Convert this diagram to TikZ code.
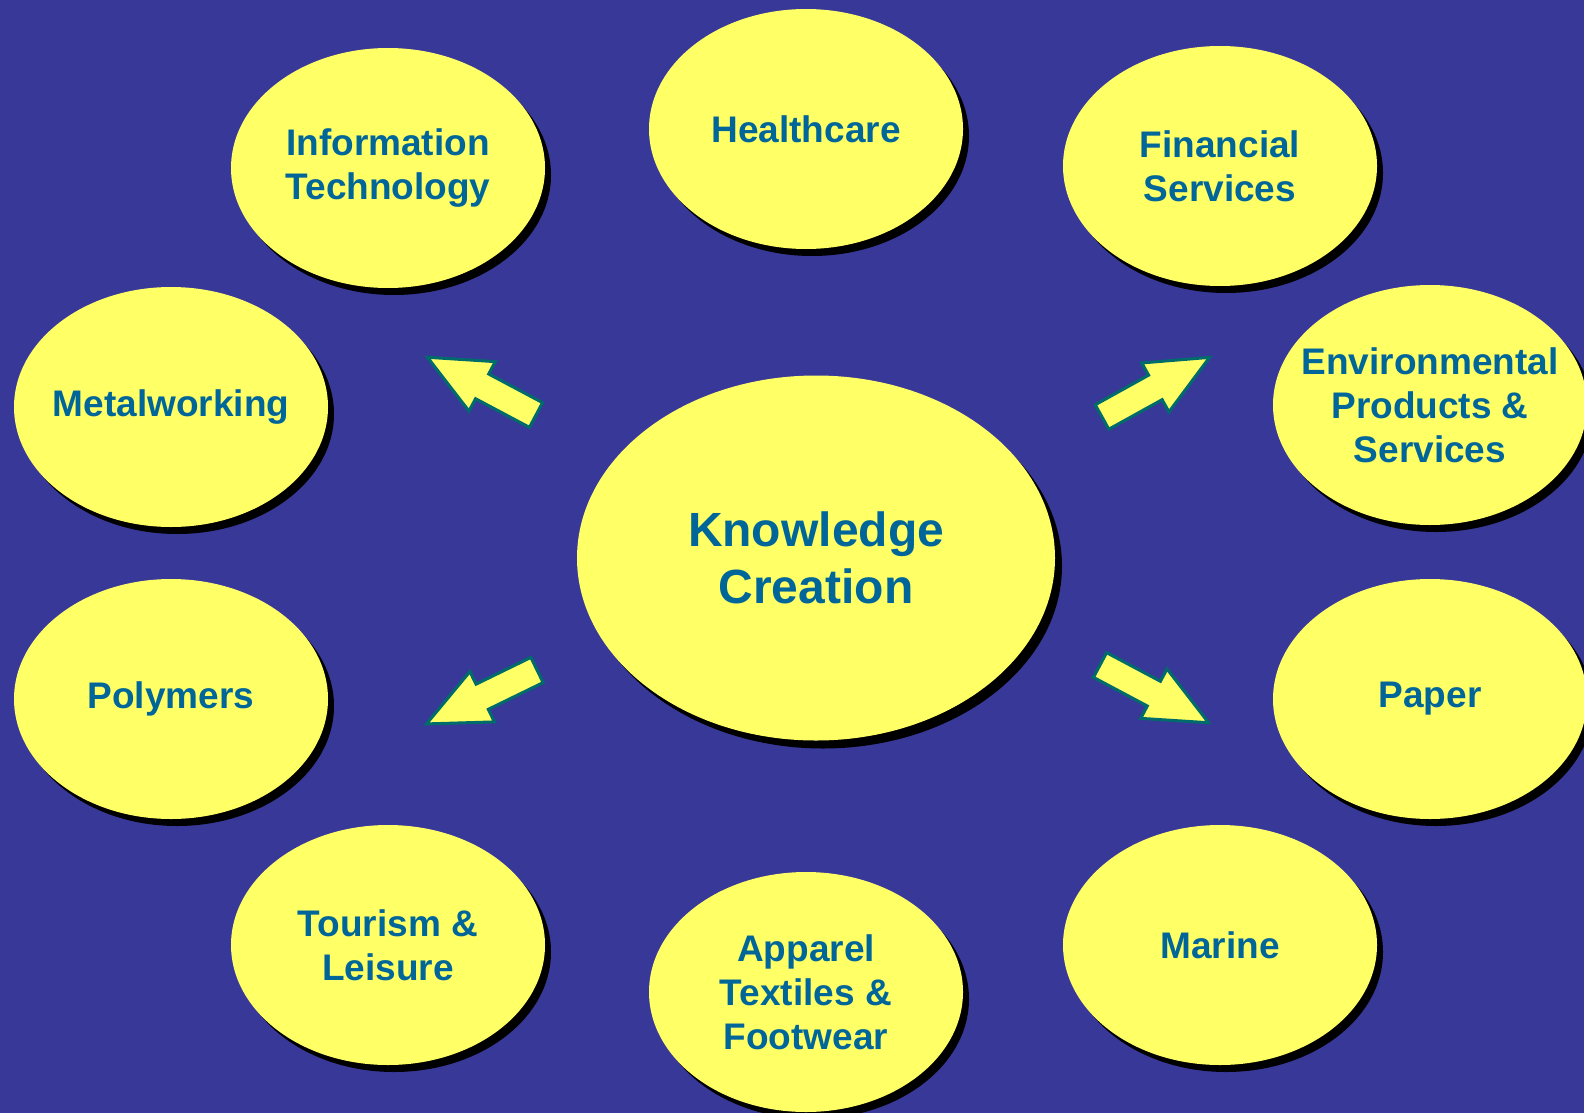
\documentclass[tikz,border=0pt]{standalone}
\usepackage{fontspec}
\setmainfont{Liberation Sans}
\usetikzlibrary{shapes.geometric,shadows}

\definecolor{backdrop}{HTML}{383898}
\definecolor{bubble}{HTML}{FFFF66}
\definecolor{label}{HTML}{006699}
\definecolor{arrowline}{HTML}{006B6B}

% block arrow: tail point, direction angle
\newcommand{\blockarrow}[2]{%
  \filldraw[blockarrow, shift={(#1)}, rotate=#2]
    (0,-14) -- (61,-14) -- (61,-28) -- (123,0) -- (61,28) -- (61,14) -- (0,14) -- cycle;}

\begin{document}
\begin{tikzpicture}[
  x=0.5pt, y=0.5pt,
  line join=miter,
  every node/.style={font=\bfseries, text=label, align=center},
  sector/.style={ellipse, fill=bubble, inner xsep=-30pt, inner ysep=0pt,
    minimum width=157pt, minimum height=120pt,
    font=\fontsize{18.5}{22}\selectfont\bfseries,
    drop shadow={shadow xshift=3pt, shadow yshift=-3.5pt, fill=black, opacity=1}},
  core/.style={sector, minimum width=239pt, minimum height=182.5pt,
    font=\fontsize{24}{28.5}\selectfont\bfseries,
    drop shadow={shadow xshift=3.5pt, shadow yshift=-4pt, fill=black, opacity=1}},
  blockarrow/.style={fill=bubble, draw=arrowline, line width=1.5pt},
]
\fill[backdrop] (0,0) rectangle (1584,-1113);
\useasboundingbox (0,0) rectangle (1584,-1113);

\node[core] (kc) at (816,-558) {Knowledge\\Creation};

\node[sector] (health)   at (806,-129)  {Healthcare};
\node[sector] (infotech) at (388,-168)  {Information\\Technology};
\node[sector] (finance)  at (1220,-166) {Financial\\Services};
\node[sector] (metal)    at (171,-407)  {Metalworking};
\node[sector] (env)      at (1430,-405) {Environmental\\Products \&\\Services};
\node[sector] (poly)     at (171,-699)  {Polymers};
\node[sector] (paper)    at (1430,-699) {Paper};
\node[sector] (tourism)  at (388,-945)  {Tourism \&\\Leisure};
\node[sector] (apparel)  at (806,-992)  {Apparel\\Textiles \&\\Footwear};
\node[sector] (marine)   at (1220,-945) {Marine};

\coordinate (ul) at (536,-415);
\coordinate (ur) at (1102,-417);
\coordinate (ll) at (537,-670);
\coordinate (lr) at (1100,-665);

\blockarrow{ul}{152}
\blockarrow{ur}{29}
\blockarrow{ll}{-154}
\blockarrow{lr}{-28}
\end{tikzpicture}
\end{document}
